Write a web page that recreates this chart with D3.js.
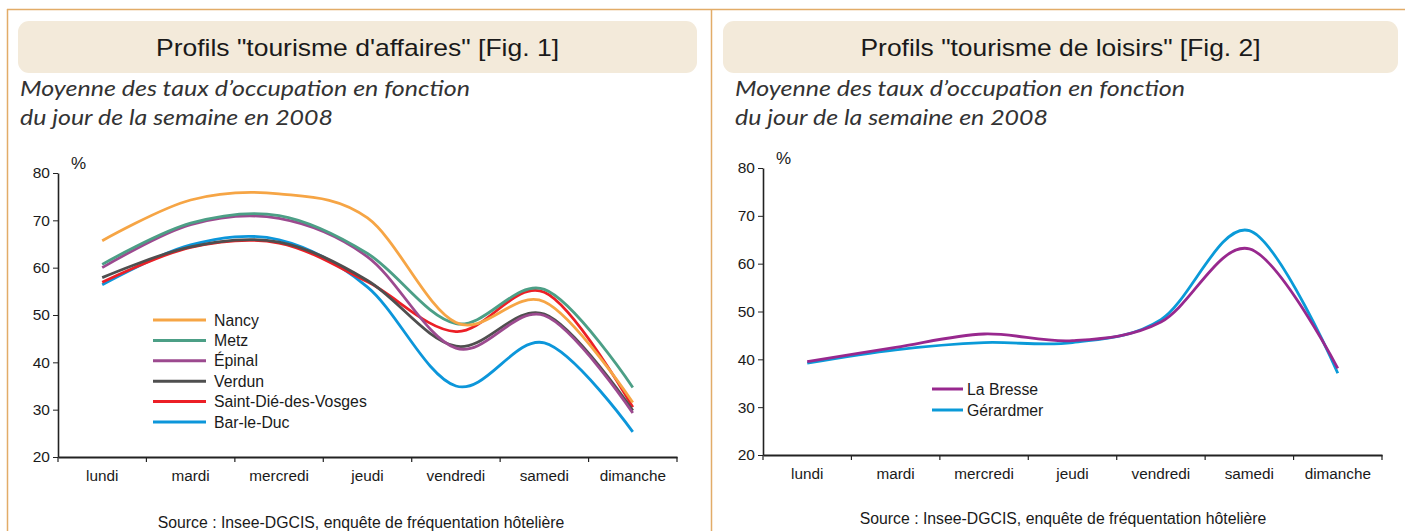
<!DOCTYPE html>
<html><head><meta charset="utf-8">
<script src="https://cdn.jsdelivr.net/npm/d3@7"></script>
<style>
html,body{margin:0;padding:0;background:#fff;}
text{font-family:"Liberation Sans",Arial,sans-serif;fill:#1a1a1a;}
</style></head>
<body>
<svg id="chart" width="1405" height="531"></svg>
<script>
// ---- data ----
const days = ["lundi","mardi","mercredi","jeudi","vendredi","samedi","dimanche"];
const yTicks = [20,30,40,50,60,70,80];

const businessCities = ["Nancy","Metz","Épinal","Verdun","Saint-Dié-des-Vosges","Bar-le-Duc"];
const nancy   = [65.7, 74.3, 75.6, 70.5, 48.4, 52.8, 31.5];
const metz    = [60.7, 69.4, 71.0, 63.0, 48.2, 55.4, 34.7];
const epinal  = [60.0, 69.1, 70.4, 62.3, 43.0, 49.9, 29.3];
const verdun  = [57.9, 64.4, 65.4, 57.3, 43.4, 50.2, 29.8];
const saintDie= [56.9, 64.3, 65.2, 57.0, 46.5, 54.8, 30.5];
const barLeDuc= [56.4, 64.8, 65.9, 55.9, 35.0, 44.1, 25.3];

const leisureCities = ["La Bresse","Gérardmer"];
const laBresse  = [39.5, 42.5, 45.3, 43.9, 47.8, 63.1, 38.1];
const gerardmer = [39.2, 42.0, 43.5, 43.5, 48.3, 66.9, 37.1];

const titles = ['Profils "tourisme d\'affaires" [Fig. 1]', 'Profils "tourisme de loisirs" [Fig. 2]'];
const subtitle = ["Moyenne des taux d’occupation en fonction", "du jour de la semaine en 2008"];
const sourceText = "Source : Insee-DGCIS, enquête de fréquentation hôtelière";

// ---- drawing ----
const svg = d3.select("#chart");
const border = "#E2AC68";

svg.append("line").attr("x1",7).attr("x2",1405).attr("y1",9.5).attr("y2",9.5).attr("stroke",border).attr("stroke-width",1.5);
svg.append("line").attr("x1",7.5).attr("x2",7.5).attr("y1",9).attr("y2",531).attr("stroke",border).attr("stroke-width",1.5);
svg.append("line").attr("x1",711.5).attr("x2",711.5).attr("y1",9).attr("y2",531).attr("stroke",border).attr("stroke-width",1.5);

function panel(cfg){
  const g = svg.append("g");
  // title box
  g.append("rect").attr("x",cfg.boxX).attr("y",21).attr("width",cfg.boxW).attr("height",52)
    .attr("rx",11).attr("fill","#F3EADA");
  g.append("text").attr("x",cfg.boxX+cfg.boxW/2).attr("y",56).attr("text-anchor","middle")
    .style("font-size","24px").attr("textLength",cfg.titleW).attr("lengthAdjust","spacingAndGlyphs")
    .text(cfg.title);
  // subtitle
  subtitle.forEach((s,i)=>{
    g.append("text").attr("x",cfg.subX).attr("y",96+i*29)
      .style("font-family","Lato, 'Open Sans', sans-serif").style("font-style","italic")
      .style("font-weight","400")
      .style("font-size","21px").style("fill","#333")
      .attr("textLength", i===0?450:313).attr("lengthAdjust","spacingAndGlyphs")
      .text(s);
  });
  const x = d3.scaleBand().domain(days).range([cfg.x0,cfg.x1]).padding(0);
  const y = d3.scaleLinear().domain([20,80]).range([cfg.yb,cfg.yt]);
  const cx = d => x(d)+x.bandwidth()/2;

  // y axis
  const ya = g.append("g").attr("transform",`translate(${cfg.x0},0)`)
    .call(d3.axisLeft(y).tickValues(yTicks).tickSize(5).tickPadding(3).tickSizeOuter(0));
  ya.select(".domain").attr("stroke","#222").attr("stroke-width",1.6);
  ya.selectAll(".tick line").attr("stroke","#222");
  ya.selectAll(".tick text").style("font-size","15.5px").style("font-family","Liberation Sans, Arial, sans-serif").attr("fill","#1a1a1a");
  // x axis
  const xa = g.append("g").attr("transform",`translate(0,${cfg.yb})`)
    .call(d3.axisBottom(x).tickSize(0).tickPadding(13).tickSizeOuter(0));
  xa.select(".domain").attr("stroke","#222").attr("stroke-width",2);
  xa.selectAll(".tick text").style("font-size","15.3px").style("font-family","Liberation Sans, Arial, sans-serif").attr("fill","#1a1a1a");
  const bounds = days.map(d=>x(d)).concat([cfg.x1]);
  g.selectAll(".btick").data(bounds).enter().append("line")
    .attr("x1",d=>d).attr("x2",d=>d).attr("y1",cfg.yb).attr("y2",cfg.yb+5).attr("stroke","#222").attr("stroke-width",1.2);
  // percent label
  g.append("text").attr("x",cfg.x0+13).attr("y",cfg.yt-4).style("font-size","17px").text("%");

  // lines
  const line = d3.line().x((d,i)=>cx(days[i])).y(d=>y(d)).curve(d3.curveCardinal.tension(0));
  cfg.series.slice().reverse().forEach(s=>{
    g.append("path").datum(s.values).attr("d",line).attr("fill","none")
      .attr("stroke",s.color).attr("stroke-width",2.8).attr("stroke-linejoin","round");
  });
  // legend
  cfg.series.forEach((s,i)=>{
    const ly = cfg.legY + i*cfg.legStep;
    g.append("line").attr("x1",cfg.legX).attr("x2",cfg.legX+cfg.legW).attr("y1",ly).attr("y2",ly)
      .attr("stroke",s.color).attr("stroke-width",3);
    g.append("text").attr("x",cfg.legX+cfg.legW+(cfg.legGap||8)).attr("y",ly+5.5).style("font-size","15.8px").text(s.name);
  });
  // source
  g.append("text").attr("x",cfg.srcX).attr("y",cfg.srcY).attr("text-anchor","middle").style("font-size","15.8px").text(sourceText);
}

panel({
  title:titles[0], titleW:403, boxX:18, boxW:679, subX:20,
  x0:58, x1:677, yt:173, yb:457,
  legX:153, legW:53, legY:320, legStep:20.4, legGap:8,
  srcX:361, srcY:528,
  series:[
    {name:businessCities[0], values:nancy, color:"#F6A545"},
    {name:businessCities[1], values:metz, color:"#4C9F86"},
    {name:businessCities[2], values:epinal, color:"#9C4A8F"},
    {name:businessCities[3], values:verdun, color:"#4F4F4F"},
    {name:businessCities[4], values:saintDie, color:"#EC1F26"},
    {name:businessCities[5], values:barLeDuc, color:"#0C96DA"}
  ]
});
panel({
  title:titles[1], titleW:400, boxX:723, boxW:675, subX:735,
  x0:763, x1:1382, yt:168, yb:455,
  legX:932, legW:31, legY:389, legStep:21, legGap:4,
  srcX:1063, srcY:524,
  series:[
    {name:leisureCities[0], values:laBresse, color:"#98288E"},
    {name:leisureCities[1], values:gerardmer, color:"#0A9AD8"}
  ]
});
</script>
</body></html>
